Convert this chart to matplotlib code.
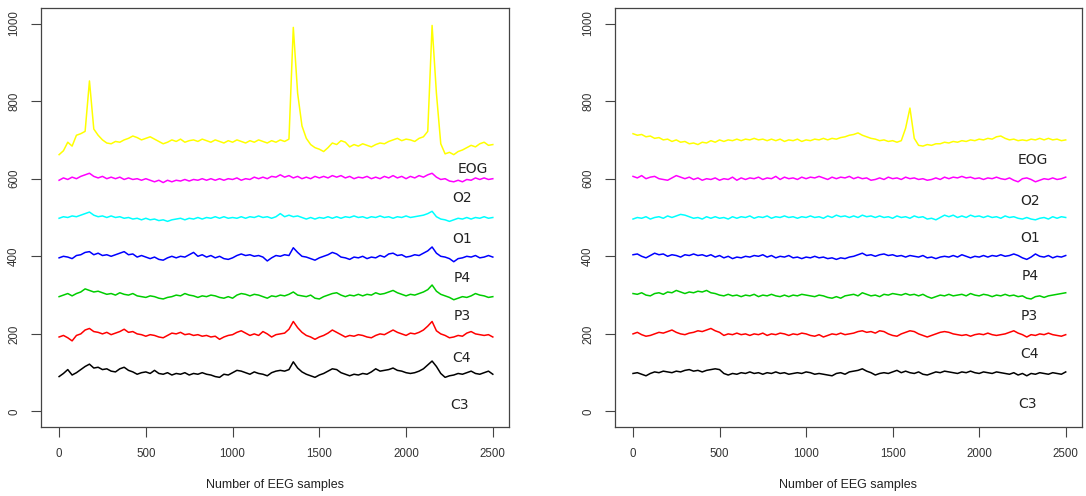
import numpy as np
import matplotlib
matplotlib.use("Agg")
import matplotlib.pyplot as plt

# EEG traces, one value every 25 samples (0..2500), offset by channel
step = 25

# left recording
eog_a = [662, 672, 694, 684, 712, 716, 722, 852, 728, 712, 700, 692, 690, 696, 694, 700, 704,
         710, 706, 700, 704, 708, 702, 696, 690, 694, 700, 696, 702, 694, 698, 700, 696, 702,
         698, 694, 700, 696, 692, 698, 694, 700, 696, 692, 698, 694, 700, 696, 692, 698, 694,
         700, 696, 702, 990, 820, 736, 704, 688, 680, 676, 670, 680, 692, 688, 698, 694, 682,
         688, 684, 690, 686, 682, 688, 692, 690, 696, 700, 704, 698, 702, 700, 696, 704, 708,
         722, 995, 820, 690, 664, 668, 662, 670, 674, 680, 686, 682, 690, 694, 686, 688]
o2_a = [596, 602, 598, 604, 600, 606, 610, 614, 606, 602, 606, 600, 604, 600, 604, 598, 602,
        598, 600, 596, 600, 596, 592, 596, 590, 596, 592, 596, 594, 598, 594, 598, 596, 600,
        596, 600, 596, 600, 596, 600, 598, 602, 596, 600, 598, 604, 600, 604, 600, 606, 604,
        610, 604, 608, 602, 606, 600, 604, 600, 606, 602, 606, 602, 608, 604, 608, 602, 606,
        600, 604, 602, 606, 600, 604, 600, 606, 602, 608, 602, 606, 600, 606, 602, 608, 604,
        610, 614, 604, 598, 600, 594, 592, 596, 592, 598, 596, 602, 598, 602, 598, 600]
o1_a = [498, 502, 500, 504, 502, 506, 510, 514, 506, 502, 504, 500, 504, 500, 502, 498, 500,
        496, 498, 494, 498, 494, 496, 492, 494, 490, 494, 496, 498, 494, 498, 496, 500, 496,
        500, 498, 502, 498, 502, 498, 500, 498, 502, 498, 502, 500, 504, 500, 502, 498, 502,
        510, 502, 506, 502, 504, 500, 496, 500, 496, 500, 498, 502, 498, 502, 498, 502, 500,
        504, 500, 502, 498, 502, 500, 504, 500, 502, 498, 502, 500, 504, 500, 502, 504, 506,
        510, 516, 502, 496, 494, 490, 494, 498, 496, 500, 496, 500, 498, 502, 498, 500]
p4_a = [396, 400, 398, 394, 402, 404, 410, 412, 404, 408, 402, 404, 400, 404, 408, 412, 404,
        406, 398, 402, 398, 394, 398, 392, 390, 396, 400, 396, 400, 398, 404, 410, 400, 404,
        398, 402, 396, 400, 394, 392, 396, 402, 406, 402, 404, 400, 402, 398, 388, 396, 402,
        400, 404, 402, 422, 410, 400, 398, 394, 390, 396, 400, 404, 410, 406, 398, 396, 392,
        398, 396, 400, 394, 398, 396, 402, 398, 406, 408, 402, 404, 398, 400, 404, 402, 408,
        414, 424, 408, 400, 398, 394, 386, 394, 396, 400, 398, 402, 396, 398, 402, 398]
p3_a = [296, 300, 304, 298, 304, 308, 316, 312, 308, 310, 306, 302, 304, 300, 306, 302, 300,
        304, 298, 296, 294, 298, 296, 292, 290, 294, 296, 300, 298, 304, 300, 298, 294, 298,
        296, 300, 298, 294, 292, 296, 292, 300, 304, 302, 298, 302, 300, 296, 292, 298, 296,
        300, 298, 302, 308, 300, 298, 296, 300, 292, 290, 296, 300, 304, 306, 300, 296, 300,
        298, 302, 298, 302, 300, 306, 302, 304, 308, 312, 306, 302, 298, 302, 300, 304, 308,
        314, 326, 310, 302, 298, 294, 288, 292, 296, 294, 298, 304, 300, 298, 294, 296]
c4_a = [192, 196, 190, 182, 196, 200, 210, 214, 206, 204, 200, 204, 198, 202, 206, 212, 204,
        206, 200, 198, 194, 198, 196, 192, 190, 196, 202, 200, 204, 198, 200, 196, 198, 194,
        196, 192, 194, 186, 192, 196, 198, 204, 208, 202, 196, 200, 196, 206, 200, 192, 198,
        200, 202, 212, 232, 216, 204, 196, 192, 186, 192, 196, 202, 210, 204, 198, 192, 196,
        194, 198, 196, 192, 190, 196, 200, 198, 204, 210, 204, 200, 196, 202, 200, 204, 210,
        220, 232, 208, 200, 196, 190, 192, 196, 194, 202, 206, 200, 198, 196, 198, 192]
c3_a = [90, 98, 108, 94, 100, 108, 116, 122, 112, 114, 108, 110, 104, 102, 110, 114, 106,
        102, 96, 100, 102, 98, 106, 98, 96, 100, 94, 98, 96, 100, 94, 98, 96, 100, 96, 94, 90,
        88, 96, 94, 100, 106, 104, 100, 96, 102, 98, 96, 92, 100, 104, 106, 104, 108, 128, 112,
        102, 96, 92, 88, 94, 98, 104, 110, 108, 100, 96, 92, 96, 94, 98, 96, 102, 110, 104, 106,
        108, 112, 106, 104, 100, 98, 100, 104, 110, 120, 130, 116, 98, 88, 92, 94, 98, 96, 100,
        104, 98, 96, 100, 104, 96]

# right recording
eog_b = [716, 712, 714, 708, 710, 704, 706, 700, 702, 696, 700, 694, 696, 690, 692, 688, 694,
         692, 698, 694, 700, 696, 700, 698, 702, 698, 702, 700, 704, 700, 702, 698, 702, 698,
         702, 696, 700, 698, 702, 696, 700, 698, 702, 700, 704, 700, 704, 702, 706, 708, 712,
         714, 718, 712, 708, 704, 702, 698, 700, 696, 698, 694, 698, 730, 782, 704, 686, 684,
         688, 686, 690, 690, 694, 692, 696, 694, 698, 696, 700, 698, 702, 700, 704, 702, 708,
         710, 704, 700, 702, 698, 700, 698, 702, 700, 704, 700, 704, 700, 702, 698, 700]
o2_b = [606, 602, 608, 600, 604, 606, 600, 598, 596, 602, 608, 604, 600, 604, 598, 602, 596,
        600, 598, 602, 596, 600, 598, 604, 596, 602, 598, 602, 600, 604, 598, 602, 600, 606,
        598, 604, 600, 602, 598, 604, 600, 604, 602, 606, 602, 598, 604, 600, 604, 602, 606,
        600, 604, 600, 602, 596, 598, 602, 598, 604, 600, 602, 598, 604, 600, 602, 598, 600,
        596, 598, 602, 598, 604, 600, 604, 602, 606, 602, 604, 600, 602, 598, 602, 600, 604,
        600, 598, 602, 596, 592, 600, 602, 598, 592, 596, 600, 598, 602, 598, 600, 604]
o1_b = [496, 500, 498, 502, 496, 500, 502, 498, 504, 500, 504, 508, 506, 502, 498, 500, 496,
        502, 498, 502, 498, 500, 496, 502, 498, 502, 500, 504, 498, 502, 500, 504, 498, 502,
        500, 504, 500, 502, 498, 502, 500, 504, 500, 502, 498, 504, 500, 506, 502, 504, 500,
        504, 500, 506, 502, 504, 500, 504, 500, 502, 498, 504, 500, 502, 498, 504, 500, 502,
        496, 498, 494, 500, 506, 502, 506, 500, 504, 500, 506, 502, 504, 500, 504, 500, 502,
        498, 504, 500, 502, 498, 496, 500, 496, 494, 498, 500, 496, 502, 498, 502, 500]
p4_b = [404, 406, 400, 396, 402, 408, 404, 406, 400, 404, 402, 398, 404, 402, 406, 402, 404,
        400, 404, 398, 402, 396, 400, 394, 398, 396, 400, 398, 402, 400, 404, 398, 402, 396,
        400, 398, 402, 396, 398, 394, 398, 396, 400, 396, 398, 394, 396, 392, 396, 394, 398,
        400, 404, 408, 402, 404, 400, 404, 406, 402, 404, 400, 402, 398, 402, 400, 398, 402,
        396, 398, 394, 398, 400, 398, 402, 398, 404, 400, 396, 400, 398, 402, 398, 402, 400,
        404, 400, 402, 406, 402, 396, 392, 398, 406, 400, 398, 402, 396, 400, 398, 402]
p3_b = [304, 302, 306, 300, 298, 304, 306, 302, 308, 306, 312, 308, 304, 308, 306, 310, 308,
        312, 306, 304, 300, 298, 302, 298, 300, 296, 300, 298, 302, 296, 300, 298, 302, 298,
        296, 300, 296, 300, 298, 302, 300, 298, 296, 300, 298, 294, 292, 296, 292, 298, 300,
        302, 298, 306, 302, 298, 300, 296, 302, 300, 304, 302, 300, 304, 300, 302, 298, 302,
        296, 292, 296, 300, 298, 302, 298, 300, 302, 298, 304, 300, 298, 302, 300, 296, 300,
        298, 302, 298, 300, 296, 298, 292, 290, 296, 298, 294, 298, 300, 302, 304, 306]
c4_b = [200, 204, 198, 194, 196, 200, 204, 202, 206, 210, 204, 200, 198, 202, 204, 208, 206,
        210, 214, 208, 204, 196, 200, 198, 202, 198, 200, 196, 200, 198, 202, 196, 200, 198,
        202, 200, 196, 200, 198, 202, 200, 196, 194, 198, 192, 196, 200, 198, 202, 198, 200,
        202, 206, 208, 204, 206, 202, 208, 206, 200, 196, 194, 200, 204, 208, 206, 200, 196,
        192, 196, 200, 204, 206, 204, 200, 198, 196, 198, 194, 198, 200, 198, 202, 198, 196,
        198, 200, 204, 208, 202, 198, 192, 198, 196, 200, 198, 202, 198, 196, 194, 198]
c3_b = [98, 100, 96, 92, 98, 102, 100, 104, 102, 100, 104, 102, 106, 108, 104, 106, 102, 106,
        108, 110, 108, 98, 94, 98, 96, 100, 98, 102, 98, 100, 96, 100, 98, 102, 98, 100, 96, 98,
        100, 98, 102, 100, 96, 98, 96, 94, 92, 98, 100, 96, 102, 104, 106, 110, 104, 100, 94,
        98, 100, 98, 102, 106, 100, 104, 100, 98, 102, 96, 94, 98, 102, 100, 104, 102, 100, 98,
        102, 100, 104, 100, 98, 102, 100, 98, 102, 100, 98, 96, 100, 94, 98, 92, 98, 96, 100,
        98, 96, 100, 98, 96, 102]

channels = ["C3", "C4", "P3", "P4", "O1", "O2", "EOG"]
colors = ["black", "#ff0000", "#00cd00", "#0000ff", "#00ffff", "#ff00ff", "#ffff00"]
left = [c3_a, c4_a, p3_a, p4_a, o1_a, o2_a, eog_a]
right = [c3_b, c4_b, p3_b, p4_b, o1_b, o2_b, eog_b]

# where the channel names sit in each panel (x, y)
left_names = [(2310, 17), (2321, 137), (2321, 247), (2321, 345), (2321, 445), (2321, 549), (2385, 626)]
right_names = [(2281, 19), (2290, 147), (2290, 245), (2292, 350), (2292, 446), (2292, 543), (2312, 647)]

plt.rcParams["font.family"] = ["Liberation Sans", "DejaVu Sans"]

fig = plt.figure(figsize=(10.86, 4.96), dpi=100)
ax1 = fig.add_axes([0.0378, 0.1391, 0.431, 0.8448])
ax2 = fig.add_axes([0.5663, 0.1391, 0.430, 0.8448])

for ax, traces, names in [(ax1, left, left_names), (ax2, right, right_names)]:
    for vals, col, name, pos in zip(traces, colors, channels, names):
        x = np.arange(len(vals)) * step
        ax.plot(x, vals, color=col, lw=1.1)
        ax.text(pos[0], pos[1], name, ha="center", va="center", fontsize=10,
                color="#222222", family="DejaVu Sans")
    ax.set_xlim(-104, 2594)
    ax.set_ylim(-40, 1040)
    ax.set_xticks(range(0, 2501, 500))
    ax.set_yticks(range(0, 1001, 200))
    ax.tick_params(length=7, width=0.8, color="#444444", labelsize=8.3,
                   labelcolor="#333333", pad=8)
    for lab in ax.get_yticklabels():
        lab.set_rotation(90)
        lab.set_va("center")
    for sp in ax.spines.values():
        sp.set_color("#444444")
        sp.set_linewidth(0.9)
    ax.set_xlabel("Number of EEG samples", fontsize=9, color="#222222", labelpad=14)

fig.savefig("out.png", dpi=100)
